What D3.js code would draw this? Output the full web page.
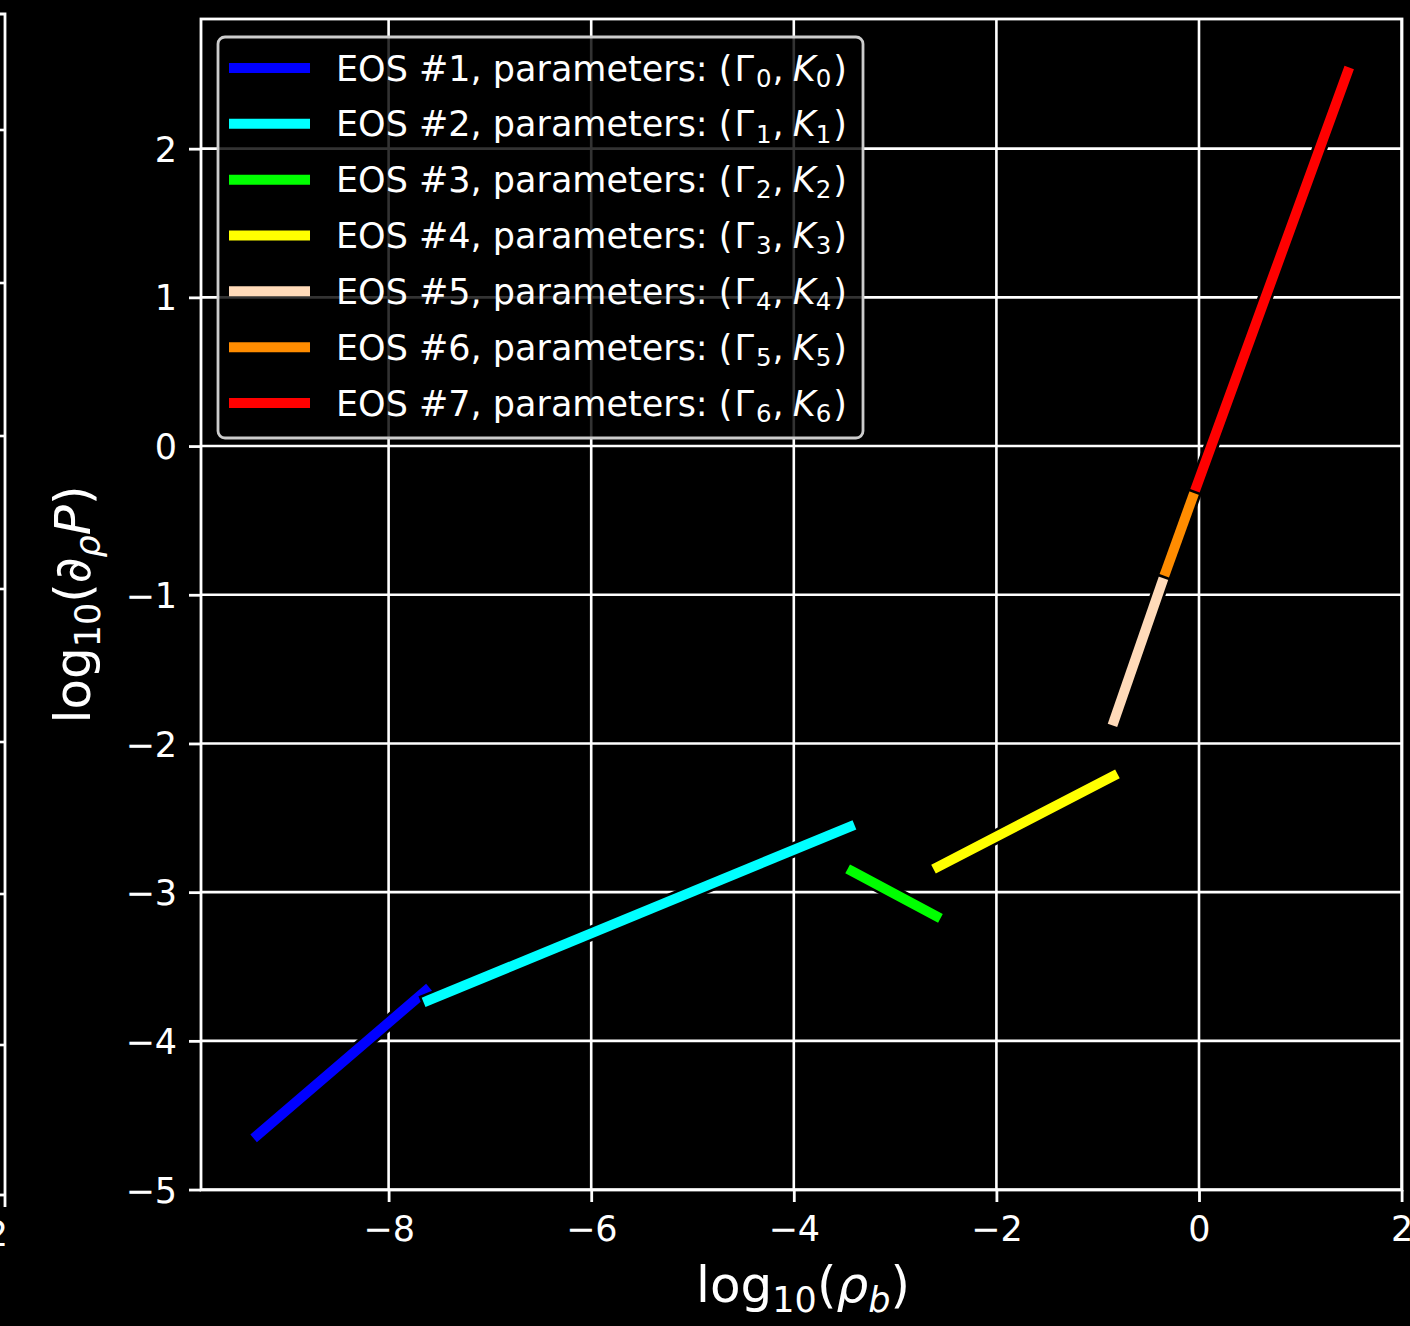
<!DOCTYPE html>
<html><head><meta charset="utf-8">
<script src="https://cdn.jsdelivr.net/npm/d3@7"></script>
<style>
html,body{margin:0;padding:0;background:#000;}
svg{display:block;}
text{font-family:"DejaVu Sans",sans-serif;fill:#fff;}
</style></head>
<body>
<script>
// ---------- data ----------
const seriesNames = ["EOS #1","EOS #2","EOS #3","EOS #4","EOS #5","EOS #6","EOS #7"];
const paramIdx = ["0","1","2","3","4","5","6"];
const seriesColors = ["#0000ff","#00ffff","#00ff00","#ffff00","#ffdab9","#ff8c00","#ff0000"];
const xStart = [-9.295, -7.609, -3.425, -2.577, -0.838, -0.326, -0.023];
const xEnd   = [-7.635, -3.447, -2.596, -0.849, -0.326, -0.023,  1.466];
const yStart = [-4.634, -3.728, -2.859, -2.830, -1.847, -0.841, -0.269];
const yEnd   = [-3.664, -2.560, -3.160, -2.220, -0.841, -0.269,  2.514];
const xTicks = [-8, -6, -4, -2, 0, 2];
const yTicks = [-5, -4, -3, -2, -1, 0, 1, 2];
const xDomain = [-9.852, 2.004];
const yDomain = [-5.003, 2.872];

// ---------- layout ----------
const W = 1410, H = 1326;
const L = 201, R = 1402, T = 19, B = 1190;
const FS = 35, LFS = 50;
const lw = 10, outlineW = 15;

const svg = d3.select("body").append("svg").attr("width", W).attr("height", H);
svg.append("rect").attr("width", W).attr("height", H).attr("fill", "#000");

const x = d3.scaleLinear().domain(xDomain).range([L, R]);
const y = d3.scaleLinear().domain(yDomain).range([B, T]);
const fmt = v => (v < 0 ? "\u2212" + Math.abs(v) : String(v));

// ---------- clipped neighbour subplot on the left ----------
const nb = svg.append("g");
const nbGrid = [130, 283, 436, 589, 742, 894, 1045];
nbGrid.forEach(gy => nb.append("line").attr("x1", 0).attr("x2", 5).attr("y1", gy).attr("y2", gy)
  .attr("stroke", "#fff").attr("stroke-width", 2.6));
nb.append("path").attr("d", "M0,14 H5 V1207").attr("fill", "none").attr("stroke", "#fff").attr("stroke-width", 2.8);
nb.append("line").attr("x1", 0).attr("x2", 5).attr("y1", 1195).attr("y2", 1195).attr("stroke", "#fff").attr("stroke-width", 2.8);
nb.append("text").attr("x", -3).attr("y", 1246).attr("text-anchor", "middle").attr("font-size", FS).text("2");

// ---------- grid ----------
const grid = svg.append("g");
xTicks.forEach(t => grid.append("line").attr("x1", x(t)).attr("x2", x(t)).attr("y1", T).attr("y2", B)
  .attr("stroke", "#fff").attr("stroke-width", 2.6));
yTicks.forEach(t => grid.append("line").attr("x1", L).attr("x2", R).attr("y1", y(t)).attr("y2", y(t))
  .attr("stroke", "#fff").attr("stroke-width", 2.6));

// ---------- axes ----------
const xAxis = d3.axisBottom(x).tickValues(xTicks).tickFormat(fmt).tickSize(12).tickPadding(13);
const yAxis = d3.axisLeft(y).tickValues(yTicks).tickFormat(fmt).tickSize(12).tickPadding(12);
const gx = svg.append("g").attr("transform", `translate(0,${B})`).call(xAxis);
const gy = svg.append("g").attr("transform", `translate(${L},0)`).call(yAxis);
[gx, gy].forEach(g => {
  g.select(".domain").remove();
  g.selectAll(".tick line").attr("stroke", "#fff").attr("stroke-width", 2.8);
  g.selectAll(".tick text").attr("fill", "#fff").attr("font-size", FS)
    .attr("font-family", "DejaVu Sans");
});
gx.selectAll(".tick text").attr("dy", "0.73em");
gy.selectAll(".tick text").attr("dy", "0.36em");

// ---------- lines ----------
const plot = svg.append("g");
const lineGen = d3.line().x(d => x(d[0])).y(d => y(d[1]));
seriesNames.forEach((n, i) => {
  const pts = [[xStart[i], yStart[i]], [xEnd[i], yEnd[i]]];
  const g = plot.append("g");
  g.append("path").attr("d", lineGen(pts)).attr("fill", "none").attr("stroke", "#000")
    .attr("stroke-width", outlineW).attr("stroke-linecap", "square");
  g.append("path").attr("d", lineGen(pts)).attr("fill", "none").attr("stroke", seriesColors[i])
    .attr("stroke-width", lw).attr("stroke-linecap", "square");
});

// ---------- frame ----------
svg.append("rect").attr("x", L).attr("y", T).attr("width", R - L).attr("height", B - T)
  .attr("fill", "none").attr("stroke", "#fff").attr("stroke-width", 2.8);

// ---------- axis labels ----------
const xl = svg.append("text").attr("x", 803).attr("y", 1302).attr("text-anchor", "middle")
  .attr("font-size", LFS);
xl.append("tspan").text("log");
xl.append("tspan").attr("font-size", LFS * 0.7).attr("dy", 0.2 * LFS).text("10");
xl.append("tspan").attr("dy", -0.2 * LFS).text("(");
xl.append("tspan").attr("font-style", "italic").text("ρ");
xl.append("tspan").attr("font-style", "italic").attr("font-size", LFS * 0.7).attr("dy", 0.2 * LFS).text("b");
xl.append("tspan").attr("dy", -0.2 * LFS).text(")");

const yl = svg.append("text").attr("transform", `translate(90,${(T + B) / 2}) rotate(-90)`)
  .attr("text-anchor", "middle").attr("font-size", LFS);
yl.append("tspan").text("log");
yl.append("tspan").attr("font-size", LFS * 0.7).attr("dy", 0.2 * LFS).text("10");
yl.append("tspan").attr("dy", -0.2 * LFS).text("(");
yl.append("tspan").attr("font-style", "italic").text("∂");
yl.append("tspan").attr("font-style", "italic").attr("font-size", LFS * 0.7).attr("dy", 0.2 * LFS).text("ρ");
yl.append("tspan").attr("font-style", "italic").attr("dy", -0.2 * LFS).text("P");
yl.append("tspan").text(")");

// ---------- legend ----------
const leg = svg.append("g");
leg.append("rect").attr("x", 218).attr("y", 37).attr("width", 645).attr("height", 401)
  .attr("rx", 7).attr("fill", "#000").attr("fill-opacity", 0.8)
  .attr("stroke", "#cccccc").attr("stroke-width", 2.8);
const rowY = d3.scaleLinear().domain([0, seriesNames.length - 1]).range([68, 403]);
seriesNames.forEach((n, i) => {
  const cy = rowY(i);
  leg.append("line").attr("x1", 229).attr("x2", 310).attr("y1", cy).attr("y2", cy)
    .attr("stroke", seriesColors[i]).attr("stroke-width", lw);
  const t = leg.append("text").attr("x", 336).attr("y", cy + 12.5).attr("font-size", FS);
  t.append("tspan").text(n + ", parameters: (");
  t.append("tspan").attr("dx", 2).text("Γ");
  t.append("tspan").attr("font-size", FS * 0.7).attr("dx", 2).attr("dy", 0.18 * FS).text(paramIdx[i]);
  t.append("tspan").attr("dx", 1).attr("dy", -0.18 * FS).text(",");
  t.append("tspan").attr("font-style", "italic").attr("dx", 9).text("K");
  t.append("tspan").attr("font-size", FS * 0.7).attr("dy", 0.18 * FS).text(paramIdx[i]);
  t.append("tspan").attr("dx", 2).attr("dy", -0.18 * FS).text(")");
});
</script>
</body></html>
